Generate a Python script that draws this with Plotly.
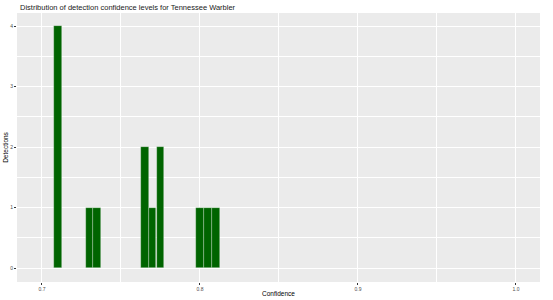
import plotly.graph_objects as go

confidence = [0.710, 0.730, 0.735, 0.765, 0.770, 0.775, 0.800, 0.805, 0.810]
detections = [4, 1, 1, 2, 1, 2, 1, 1, 1]
x_ticks = [0.7, 0.8, 0.9, 1.0]
x_tick_labels = ["0.7", "0.8", "0.9", "1.0"]
y_ticks = [0, 1, 2, 3, 4]

fig = go.Figure()
fig.add_trace(go.Bar(
    x=confidence, y=detections, width=0.0049,
    marker=dict(color="#006400", line=dict(color="rgba(255,255,255,0.45)", width=0.6)),
))

grid = "#ffffff"
fig.update_layout(
    width=553, height=300,
    margin=dict(l=17, r=13, t=13, b=18),
    paper_bgcolor="white", plot_bgcolor="#ebebeb",
    showlegend=False, bargap=0,
    font=dict(family="Liberation Sans, Arial, sans-serif", color="#000000"),
    title=dict(text="Distribution of detection confidence levels for Tennessee Warbler",
               x=20/553, xref="container", xanchor="left", y=0.985, yref="container", yanchor="top",
               font=dict(size=7.5, color="#1a1a1a")),
    xaxis=dict(range=[0.6842, 1.0152], tickvals=x_ticks, ticktext=x_tick_labels, automargin=False,
               showgrid=True, gridcolor=grid, gridwidth=1,
               minor=dict(tickvals=[0.75, 0.85, 0.95], showgrid=True, gridcolor=grid, gridwidth=0.5, ticks=""),
               ticks="outside", ticklen=2, tickcolor="#333333", tickwidth=0.6,
               tickfont=dict(size=5, color="#4d4d4d"), zeroline=False,
               title=dict(text="Confidence", font=dict(size=6.5), standoff=0)),
    yaxis=dict(range=[-0.231, 4.215], tickvals=y_ticks, automargin=False,
               showgrid=True, gridcolor=grid, gridwidth=1,
               minor=dict(tickvals=[0.5, 1.5, 2.5, 3.5], showgrid=True, gridcolor=grid, gridwidth=0.5, ticks=""),
               ticks="outside", ticklen=2, tickcolor="#333333", tickwidth=0.6,
               tickfont=dict(size=5, color="#4d4d4d"), zeroline=False,
               title=dict(text="Detections", font=dict(size=6.5), standoff=0)),
)
fig.write_html("out.html")
